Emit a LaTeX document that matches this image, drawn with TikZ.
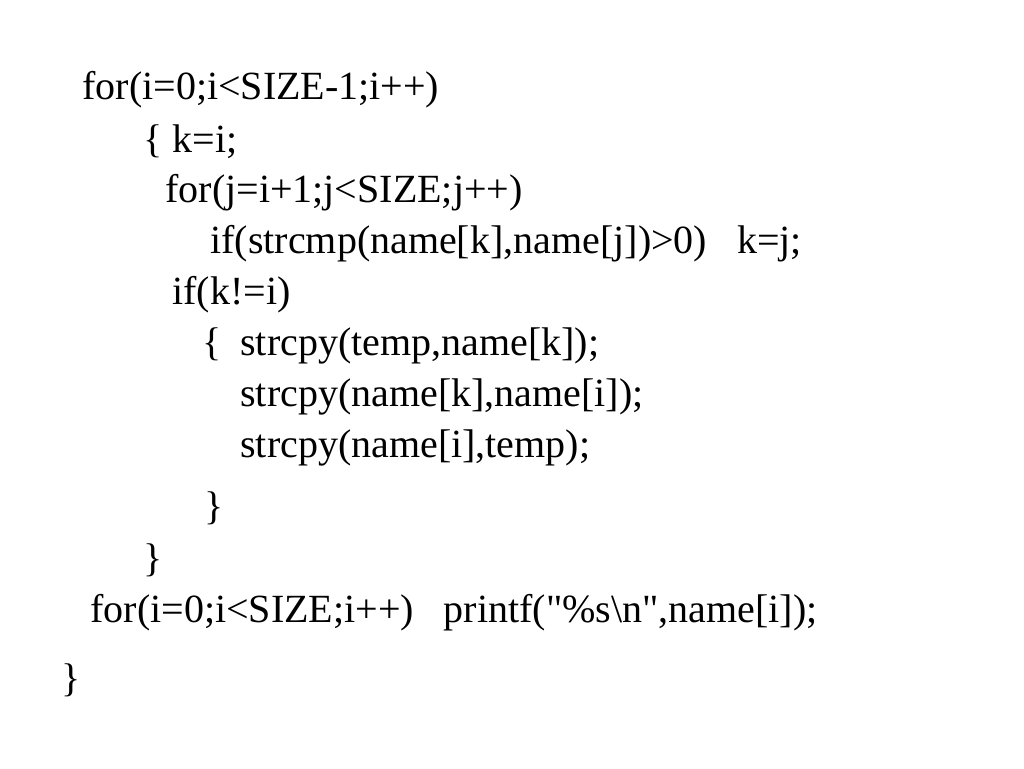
\documentclass[tikz,border=0pt]{standalone}
\usepackage{fontspec}
\setmainfont{Liberation Serif}
\usetikzlibrary{positioning}

\begin{document}
\begin{tikzpicture}[x=0.5pt,y=-0.5pt,
        code/.style={anchor=base west,inner sep=0pt,font=\fontsize{20}{24}\selectfont}]
                \useasboundingbox (0,0) rectangle (1024,768);
                \node [code] (outerFor) at (82,99) {for(i=0;i<SIZE-1;i++)};
                \node [code] (openOuter) at (143,152) {\{ k=i;};
                \node [code] (innerFor) at (165,202) {for(j=i+1;j<SIZE;j++)};
                \node [code] (cmpIf) at (210,253) {if(strcmp(name[k],name[j])>0)\ \ \ k=j;};
                \node [code] (swapIf) at (172,304) {if(k!=i)};
                \node [code] (openSwap) at (202,355) {\{};
                \node [code] (copyA) at (240,355) {strcpy(temp,name[k]);};
                \node [code] (copyB) at (240,406) {strcpy(name[k],name[i]);};
                \node [code] (copyC) at (240,457) {strcpy(name[i],temp);};
                \node [code] (closeSwap) at (204,519) {\}};
                \node [code] (closeOuter) at (143,571) {\}};
                \node [code] (printFor) at (90,622) {for(i=0;i<SIZE;i++)\ \ \ printf(\textquotedbl\%s\textbackslash n\textquotedbl,name[i]);};
                \node [code] (closeMain) at (61,691) {\}};
\end{tikzpicture}
\end{document}
